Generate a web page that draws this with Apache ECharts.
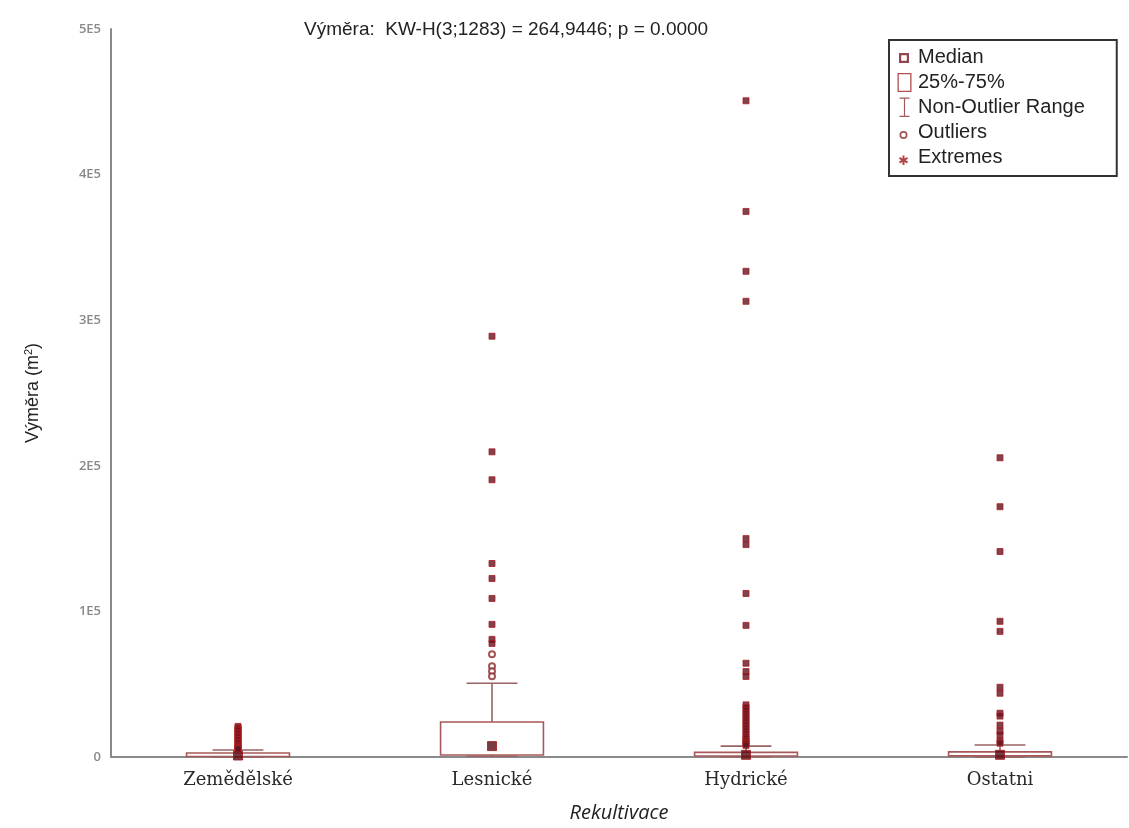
<!DOCTYPE html>
<html>
<head>
<meta charset="utf-8">
<title>Výměra - Rekultivace</title>
<script src="https://cdn.jsdelivr.net/npm/echarts@6/dist/echarts.min.js"></script>
<style>
  html, body { margin: 0; padding: 0; background: #fff; }
  #chart { width: 1129px; height: 828px; }
</style>
</head>
<body>
<div id="chart"></div>
<script>
// kategorie rekultivace
var categories = ["Zemědělské", "Lesnické", "Hydrické", "Ostatni"];

// krabicovy graf: min, 25 %, median, 75 %, max (non-outlier range)
var boxMin = [0, 500, 0, 100];
var boxQ1 = [300, 1400, 700, 800];
var boxMedian = [1000, 7500, 1500, 1500];
var boxQ3 = [2700, 24000, 3200, 3500];
var boxMax = [4800, 50700, 7500, 8200];

// odlehle hodnoty (outliers)
var outliersLes = [70500, 62300, 58900, 55500];

// extremy
var extremesZem = [21000, 20000, 19000, 18000, 17000, 16000, 15000, 14000, 13000,
  12000, 11000, 10000, 9000, 8000, 7000, 6500, 6000, 5500];
var extremesLes = [289000, 209600, 190400, 132900, 122600, 108900, 91100, 80800, 78000];
var extremesHyd = [450700, 374700, 333600, 313000, 150000, 145900, 112300, 90400,
  64400, 58700, 55300, 35800, 34000, 32000, 30000, 28000, 26000, 24000, 22000,
  20000, 18000, 16000, 14000, 12500, 11000, 10000, 9000, 8000];
var extremesOst = [205500, 171900, 141100, 93200, 86300, 47900, 43800, 30100, 28100,
  21900, 17800, 15100, 11000, 9500];

var yTicks = ["0", "1E5", "2E5", "3E5", "4E5", "5E5"];

var boxColor = "#a85858";
var whiskerColor = "#9a6262";
var pointColor = "#5c1424";
var pointBorder = "#b01c1c";

function toPairs(catIndex, values) {
  return values.map(function (v) {
    return [catIndex, v];
  });
}

var boxData = categories.map(function (c, i) {
  return [i, boxQ1[i], boxQ3[i]];
});
var whiskerData = categories.map(function (c, i) {
  return [i, boxMin[i], boxQ1[i], boxQ3[i], boxMax[i]];
});
var medianData = categories.map(function (c, i) {
  return [i, boxMedian[i]];
});
var extremeData = []
  .concat(toPairs(0, extremesZem))
  .concat(toPairs(1, extremesLes))
  .concat(toPairs(2, extremesHyd))
  .concat(toPairs(3, extremesOst));
var outlierData = toPairs(1, outliersLes);

function renderBox(params, api) {
  var x = api.value(0);
  var lo = api.coord([x, api.value(1)]);
  var hi = api.coord([x, api.value(2)]);
  var w = api.size([1, 0])[0] * 0.405;
  return {
    type: "rect",
    shape: { x: lo[0] - w / 2, y: hi[1], width: w, height: Math.max(lo[1] - hi[1], 1) },
    style: { fill: "none", stroke: boxColor, lineWidth: 1.6 }
  };
}

function renderWhisker(params, api) {
  var x = api.value(0);
  var pMin = api.coord([x, api.value(1)]);
  var pQ1 = api.coord([x, api.value(2)]);
  var pQ3 = api.coord([x, api.value(3)]);
  var pMax = api.coord([x, api.value(4)]);
  var c = api.size([1, 0])[0] * 0.1;
  var st = { stroke: whiskerColor, lineWidth: 1.6 };
  return {
    type: "group",
    children: [
      { type: "line", shape: { x1: pQ3[0], y1: pQ3[1], x2: pMax[0], y2: pMax[1] }, style: st },
      { type: "line", shape: { x1: pMin[0], y1: pMin[1], x2: pQ1[0], y2: pQ1[1] }, style: st },
      { type: "line", shape: { x1: pMax[0] - c, y1: pMax[1], x2: pMax[0] + c, y2: pMax[1] }, style: st },
      { type: "line", shape: { x1: pMin[0] - c, y1: pMin[1], x2: pMin[0] + c, y2: pMin[1] }, style: st }
    ]
  };
}

// ikony legendy (ramecek 0..16 x 0..20)
var iconMedian = "path://M0 0 M16 20 M2 6 L12 6 L12 16 L2 16 Z M4.2 8.2 L4.2 13.8 L9.8 13.8 L9.8 8.2 Z";
var iconBox = "path://M0 0 M16 20 M0.5 1 L14.5 1 L14.5 20 L0.5 20 Z M1.8 2.3 L1.8 18.7 L13.2 18.7 L13.2 2.3 Z";
var iconRange = "path://M0 0 M16 20 M2.5 0.5 L12.5 0.5 L12.5 1.7 L8.1 1.7 L8.1 18.8 L12.5 18.8 L12.5 20 L2.5 20 L2.5 18.8 L6.9 18.8 L6.9 1.7 L2.5 1.7 Z";
var iconOutlier = "path://M0 0 M16 20 M2.5 13 A4 4 0 1 0 10.5 13 A4 4 0 1 0 2.5 13 Z M4.2 13 A2.3 2.3 0 1 1 8.8 13 A2.3 2.3 0 1 1 4.2 13 Z";
var iconExtreme = "path://M0 0 M16 20 M5.5 8.5 L7.5 8.5 L7.5 11.4 L10 10 L11 11.8 L8.6 13.2 L11 14.6 L10 16.4 L7.5 15 L7.5 18 L5.5 18 L5.5 15 L3 16.4 L2 14.6 L4.4 13.2 L2 11.8 L3 10 L5.5 11.4 Z";

var myChart = echarts.init(document.getElementById("chart"), null, { renderer: "canvas" });

var option = {
  backgroundColor: "#ffffff",
  animation: false,
  title: {
    text: "Výměra:  KW-H(3;1283) = 264,9446; p = 0.0000",
    left: 299,
    top: 15,
    textStyle: { fontFamily: "Liberation Sans", fontSize: 19, fontWeight: "normal", color: "#222" }
  },
  legend: {
    orient: "vertical",
    left: 889,
    top: 40,
    padding: [7, 32, 9, 8],
    itemGap: 5,
    itemWidth: 16,
    itemHeight: 20,
    selectedMode: false,
    borderColor: "#333",
    borderWidth: 2,
    backgroundColor: "#fff",
    textStyle: { fontFamily: "Liberation Sans", fontSize: 20, color: "#222" },
    data: [
      { name: "Median", icon: iconMedian, itemStyle: { color: "#7a1420", borderWidth: 0 } },
      { name: "25%-75%", icon: iconBox, itemStyle: { color: "#b05050", borderWidth: 0 } },
      { name: "Non-Outlier Range", icon: iconRange, itemStyle: { color: "#a05a5a", borderWidth: 0 } },
      { name: "Outliers", icon: iconOutlier, itemStyle: { color: "#8b2a2a", borderWidth: 0 } },
      { name: "Extremes", icon: iconExtreme, itemStyle: { color: "#a01818", borderWidth: 0 } }
    ]
  },
  grid: { left: 111, right: 2, top: 29, bottom: 69, containLabel: false },
  xAxis: {
    type: "category",
    data: categories,
    boundaryGap: true,
    name: "Rekultivace",
    nameLocation: "middle",
    nameGap: 46,
    nameTextStyle: { fontFamily: "Open Sans", fontStyle: "italic", fontSize: 20, color: "#222" },
    axisLine: { lineStyle: { color: "#8a8a8a", width: 2 } },
    axisTick: { show: false },
    axisLabel: { margin: 14, fontFamily: "DejaVu Serif", fontSize: 18, color: "#2a2a2a" },
    splitLine: { show: false }
  },
  yAxis: {
    type: "value",
    min: 0,
    max: 500000,
    interval: 100000,
    name: "Výměra (m{sup|2})",
    nameLocation: "middle",
    nameRotate: 90,
    nameGap: 68,
    nameTextStyle: {
      fontFamily: "Liberation Sans",
      fontSize: 18,
      color: "#222",
      rich: { sup: { fontSize: 11, verticalAlign: "top", padding: [0, 0, 9, 0], fontFamily: "Liberation Sans", color: "#222" } }
    },
    axisLine: { show: true, lineStyle: { color: "#8a8a8a", width: 2 } },
    axisTick: { show: false },
    axisLabel: {
      margin: 10,
      fontFamily: "Open Sans",
      fontWeight: 600,
      fontSize: 13,
      color: "#8a8a8a",
      formatter: function (v) {
        return yTicks[Math.round(v / 100000)];
      }
    },
    splitLine: { show: false }
  },
  series: [
    {
      name: "25%-75%",
      type: "custom",
      renderItem: renderBox,
      itemStyle: { color: boxColor },
      encode: { x: 0, y: [1, 2] },
      data: boxData,
      z: 2
    },
    {
      name: "Non-Outlier Range",
      type: "custom",
      renderItem: renderWhisker,
      itemStyle: { color: whiskerColor },
      encode: { x: 0, y: [1, 2, 3, 4] },
      data: whiskerData,
      z: 2
    },
    {
      name: "Median",
      type: "scatter",
      symbol: "rect",
      symbolSize: 9,
      itemStyle: { color: "#5a0a14", borderColor: "#a01818", borderWidth: 1 },
      data: medianData,
      z: 4
    },
    {
      name: "Outliers",
      type: "scatter",
      symbol: "emptyCircle",
      symbolSize: 6,
      itemStyle: { color: "#8b2a2a", borderWidth: 1.4 },
      data: outlierData,
      z: 3
    },
    {
      name: "Extremes",
      type: "scatter",
      symbol: "rect",
      symbolSize: 6,
      itemStyle: { color: pointColor, borderColor: pointBorder, borderWidth: 1 },
      data: extremeData,
      z: 5
    }
  ]
};

myChart.setOption(option);
</script>
</body>
</html>
